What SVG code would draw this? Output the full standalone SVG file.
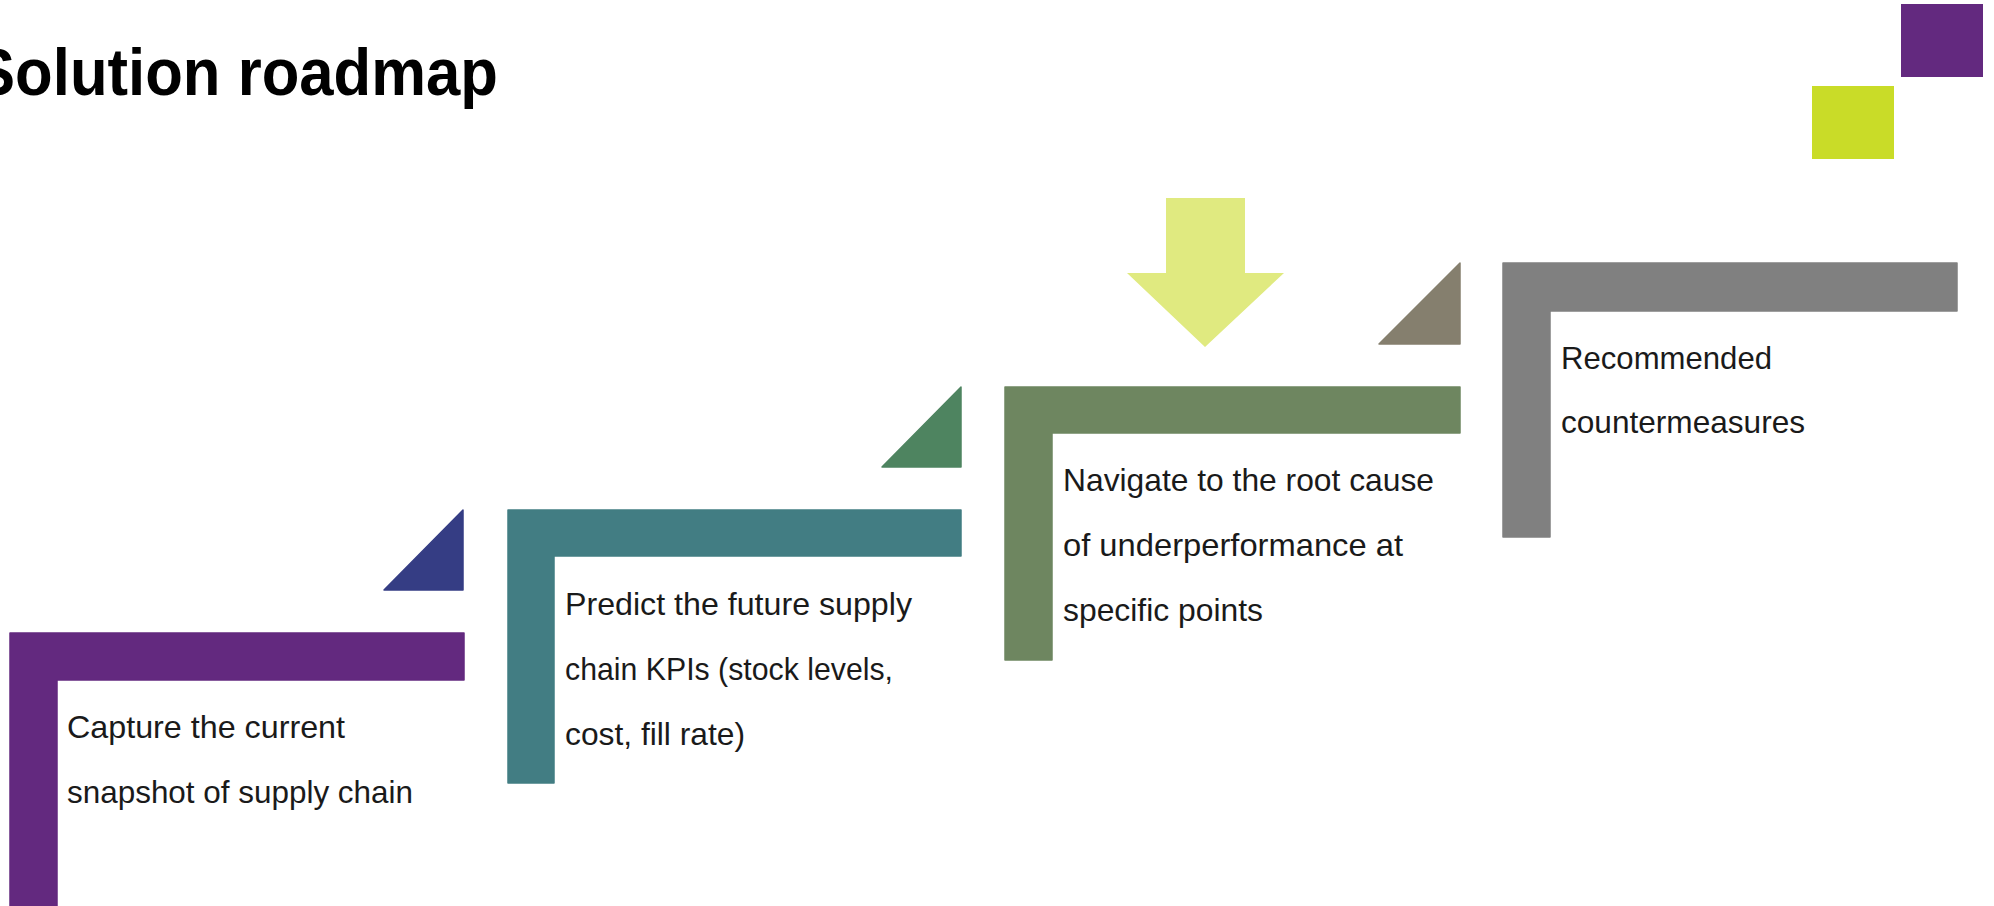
<svg xmlns="http://www.w3.org/2000/svg" width="1994" height="906" viewBox="0 0 1994 906">
<style>
.title{font-family:"Liberation Sans",Arial,sans-serif;font-weight:bold;font-size:66px;fill:#000}
.lbl{font-family:"Liberation Sans",Arial,sans-serif;font-size:32px;fill:#1a1a1a}
.shape{stroke-width:1.5;stroke-linejoin:round}
</style>
<rect x="0" y="0" width="1994" height="906" fill="#ffffff"/>
<text class="title" x="-26" y="95" textLength="524" lengthAdjust="spacingAndGlyphs">Solution roadmap</text>
<g id="decor">
<rect x="1901" y="4" width="82" height="73" fill="#63297F"/>
<rect x="1812" y="86" width="82" height="73" fill="#C9DC28"/>
</g>
<g id="connectors">
<path class="shape" d="M463,510 V590 H384 Z" fill="#353D84" stroke="#353D84"/>
<path class="shape" d="M961,387 V467 H882 Z" fill="#4E8460" stroke="#4E8460"/>
<path class="shape" d="M1460,263 V344 H1379 Z" fill="#857F6E" stroke="#857F6E"/>
</g>
<g id="focus-arrow">
<path d="M1166,198 H1245 V273 H1284 L1205,347 L1127,273 H1166 Z" fill="#E0EA80"/>
</g>
<g id="step1">
<path class="shape" d="M10,633 H464 V680 H57 V910 H10 Z" fill="#63297F" stroke="#63297F"/>
<text class="lbl" x="67" y="738" textLength="278" lengthAdjust="spacingAndGlyphs">Capture the current</text>
<text class="lbl" x="67" y="803" textLength="346" lengthAdjust="spacingAndGlyphs">snapshot of supply chain</text>
</g>
<g id="step2">
<path class="shape" d="M508,510 H961 V556 H554 V783 H508 Z" fill="#427D83" stroke="#427D83"/>
<text class="lbl" x="565" y="615" textLength="347" lengthAdjust="spacingAndGlyphs">Predict the future supply</text>
<text class="lbl" x="565" y="680" textLength="328" lengthAdjust="spacingAndGlyphs">chain KPIs (stock levels,</text>
<text class="lbl" x="565" y="745" textLength="180" lengthAdjust="spacingAndGlyphs">cost, fill rate)</text>
</g>
<g id="step3">
<path class="shape" d="M1005,387 H1460 V433 H1052 V660 H1005 Z" fill="#6E8660" stroke="#6E8660"/>
<text class="lbl" x="1063" y="491" textLength="371" lengthAdjust="spacingAndGlyphs">Navigate to the root cause</text>
<text class="lbl" x="1063" y="556" textLength="340" lengthAdjust="spacingAndGlyphs">of underperformance at</text>
<text class="lbl" x="1063" y="621" textLength="200" lengthAdjust="spacingAndGlyphs">specific points</text>
</g>
<g id="step4">
<path class="shape" d="M1503,263 H1957 V311 H1550 V537 H1503 Z" fill="#808080" stroke="#808080"/>
<text class="lbl" x="1561" y="369" textLength="211" lengthAdjust="spacingAndGlyphs">Recommended</text>
<text class="lbl" x="1561" y="433" textLength="244" lengthAdjust="spacingAndGlyphs">countermeasures</text>
</g>
</svg>
